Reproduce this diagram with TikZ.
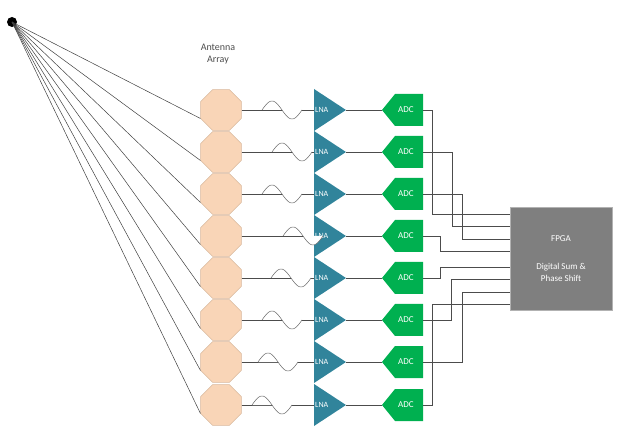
\documentclass[tikz,border=0pt]{standalone}
\usepackage{fontspec}
\setmainfont{Carlito}
\usetikzlibrary{shapes.geometric}
\definecolor{oct}{HTML}{F9D5B7}
\definecolor{octb}{HTML}{D8B89C}
\definecolor{lna}{HTML}{31849B}
\definecolor{adc}{HTML}{00B050}
\definecolor{fpga}{HTML}{7F7F7F}
\begin{document}
\begin{tikzpicture}[x=1pt,y=-1pt,
  ant/.style={regular polygon,regular polygon sides=8,minimum size=44,inner sep=0,fill=oct,draw=octb},
  wire/.style={draw=black!70,line width=0.6pt},
  lbl/.style={text=white,font=\fontsize{8}{9}\selectfont},
  every node/.style={}]
\useasboundingbox (0,0) rectangle (618,435);
\fill (12,22) circle (5) coordinate (src);
\node[text=black!70,align=center,font=\fontsize{10}{12}\selectfont] (title) at (218,54) {Antenna\\Array};
\node[fill=fpga,draw=black!30,minimum width=102,minimum height=103,anchor=north west,inner sep=0] (fpga) at (510,207) {};
\node[text=white,font=\fontsize{9}{10}\selectfont] (f1) at (561,239) {FPGA};
\node[text=white,align=center,font=\fontsize{9}{12}\selectfont] (f2) at (561,272) {Digital Sum \&\\Phase Shift};
\foreach \i/\y/\w in {1/110/262,2/152/272,3/194/262,4/236/283,5/278/271,6/320/262,7/362/258,8/405/252}{
  \node[ant] (a\i) at (221,\y) {};
  \draw[black!75,line width=0.5pt] (src) -- (a\i.corner 4);
  \fill[lna] (314,\y-21) -- (346,\y) -- (314,\y+21) -- cycle;
  \node[lbl,anchor=west,inner sep=0] (l\i) at (315,\y) {LNA};
  \coordinate (li\i) at (314,\y);
  \coordinate (lo\i) at (346,\y);
  \fill[adc] (382,\y) -- (395,\y-16) -- (423,\y-16) -- (423,\y+16) -- (395,\y+16) -- cycle;
  \node[lbl,font=\fontsize{9}{10}\selectfont] (d\i) at (406,\y) {ADC};
  \coordinate (di\i) at (382,\y);
  \coordinate (do\i) at (423,\y);
  \draw[wire] (a\i.east) -- (li\i);
  \draw[black!60,line width=0.5pt,fill=white] plot[domain=0:360,samples=40] ({\w+\x/9},{\y-9*sin(\x)});
  \draw[wire] (lo\i) -- (di\i);
}
\foreach \i/\x/\ty in {1/432/214,2/452/226,3/462/239,4/440/251,5/440/267,6/451/279,7/462/292,8/432/304}{
  \coordinate (t\i) at (fpga.west |- 0,\ty);
  \draw[wire] (do\i) -| (\x,\ty) -- (t\i);
}
\end{tikzpicture}
\end{document}
